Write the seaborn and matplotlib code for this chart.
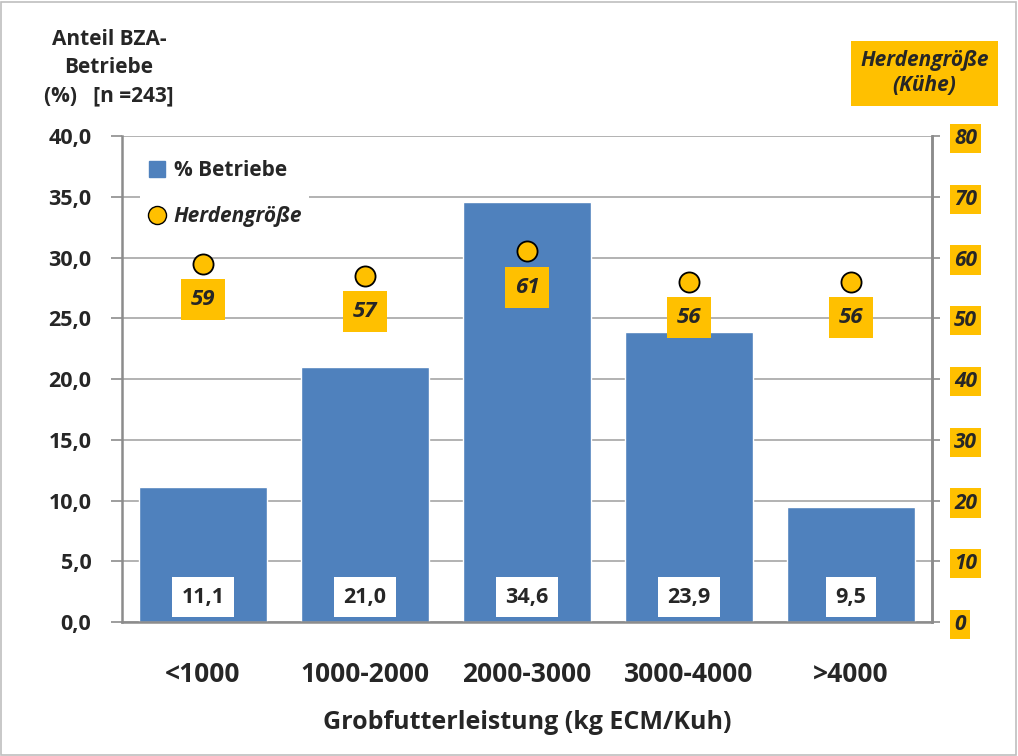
import matplotlib
matplotlib.use("Agg")
import matplotlib.pyplot as plt
from matplotlib.lines import Line2D
from matplotlib.patches import Rectangle
import seaborn as sns
import pandas as pd

# Daten aus der Grafik
klassen = ["<1000", "1000-2000", "2000-3000", "3000-4000", ">4000"]
anteil_betriebe = [11.1, 21.0, 34.6, 23.9, 9.5]
herdengroesse = [59, 57, 61, 56, 56]

BLAU = "#4F81BD"
ORANGE = "#FFC000"
GRAU = "#8C8C8C"

sns.set_style("white")
plt.rcParams["font.family"] = ["Open Sans", "DejaVu Sans"]
plt.rcParams["font.weight"] = "bold"

df = pd.DataFrame({"klasse": klassen, "anteil": anteil_betriebe, "herde": herdengroesse})

fig = plt.figure(figsize=(10.18, 7.56), dpi=100)
ax = fig.add_axes([0.1198, 0.1772, 0.7957, 0.6429])

# === Balken ===
sns.barplot(data=df, x="klasse", y="anteil", color=BLAU, saturation=1,
            width=0.79, ax=ax, zorder=2)
ax.set_xlim(-0.5, 4.5)
ax.set_ylim(0, 40)
ax.set_yticks(range(0, 41, 5))
ax.set_yticklabels([f"{v:.1f}".replace(".", ",") for v in range(0, 41, 5)],
                   fontweight="bold")
ax.set_xticks(range(len(klassen)))
ax.set_xticklabels(klassen, fontweight="bold")
ax.yaxis.grid(True, color="#A6A6A6", lw=1.2, zorder=0)
ax.set_axisbelow(True)
ax.set_xlabel("Grobfutterleistung (kg ECM/Kuh)", fontsize=18, fontweight="bold", labelpad=16)
ax.set_ylabel("")
ax.tick_params(axis="y", direction="out", length=8, width=1.2, color=GRAU,
               pad=14, labelsize=15.5)
ax.tick_params(axis="x", which="major", length=0, pad=28, labelsize=19)
ax.set_xticks([i + 0.5 for i in range(-1, 5)], minor=True)
ax.tick_params(axis="x", which="minor", direction="out", length=9, width=1.2, color=GRAU)
ax.spines["top"].set_visible(False)
for s in ["left", "bottom", "right"]:
    ax.spines[s].set_color(GRAU)
    ax.spines[s].set_linewidth(1.8)

# Werte in weissen Kaestchen am Balkenfuss
for i, v in enumerate(anteil_betriebe):
    ax.annotate(f"{v:.1f}".replace(".", ","), xy=(i, 0), xytext=(0, 18),
                textcoords="offset points", ha="center", va="center",
                fontsize=15.5, fontweight="bold", zorder=5,
                bbox=dict(boxstyle="square,pad=0.45", fc="white", ec="none"))

# === Herdengroesse (rechte Achse) ===
ax2 = ax.twinx()
sns.scatterplot(data=df, x="klasse", y="herde", ax=ax2, s=210, color=ORANGE,
                edgecolor="black", linewidth=1.3, zorder=4, legend=False)
ax2.set_ylim(0, 80)
ax2.set_yticks(range(0, 81, 10))
ax2.set_ylabel("")
ax2.tick_params(axis="y", direction="out", length=6, width=1.2, color=GRAU, pad=10,
                labelsize=15)
for lab in ax2.get_yticklabels():
    lab.set_fontstyle("italic")
    lab.set_fontweight("bold")
    lab.set_bbox(dict(boxstyle="square,pad=0.2", fc=ORANGE, ec="none"))
for s in ax2.spines.values():
    s.set_visible(False)
ax2.spines["right"].set_visible(True)
ax2.spines["right"].set_color(GRAU)
ax2.spines["right"].set_linewidth(1.8)

for i, h in enumerate(herdengroesse):
    ax2.annotate(str(h), xy=(i, h), xytext=(0, -26), textcoords="offset points",
                 ha="center", va="center", fontsize=16, fontweight="bold",
                 fontstyle="italic",
                 bbox=dict(boxstyle="square,pad=0.45", fc=ORANGE, ec="none"))

# Legende
handles = [Line2D([], [], marker="s", ls="none", color=BLAU, markersize=11),
           Line2D([], [], marker="o", ls="none", markerfacecolor=ORANGE,
                  markeredgecolor="black", markersize=13)]
leg = ax2.legend(handles, ["% Betriebe", "Herdengröße"], loc="upper left",
                 bbox_to_anchor=(0.01, 0.985), frameon=True, facecolor="white",
                 edgecolor="none", framealpha=1, fontsize=15, handletextpad=0.3,
                 labelspacing=1.2, handlelength=1.0, borderpad=0.3)
leg.get_texts()[0].set_fontweight("bold")
leg.get_texts()[1].set_fontweight("bold")
leg.get_texts()[1].set_fontstyle("italic")

# Achsentitel
fig.text(0.107, 0.962, "Anteil BZA-\nBetriebe\n(%)   [n =243]", ha="center", va="top",
         fontsize=15, fontweight="bold", linespacing=1.45)
fig.text(0.908, 0.903, "Herdengröße\n(Kühe)", ha="center", va="center",
         fontsize=15, fontweight="bold", fontstyle="italic", linespacing=1.25,
         bbox=dict(boxstyle="square,pad=0.45", fc=ORANGE, ec="none"))

# Rahmen um die Grafik
fig.patches.append(Rectangle((0.001, 0.001), 0.997, 0.997, transform=fig.transFigure,
                             fill=False, ec="#BFBFBF", lw=1.2))

fig.savefig("out.png", dpi=100)
